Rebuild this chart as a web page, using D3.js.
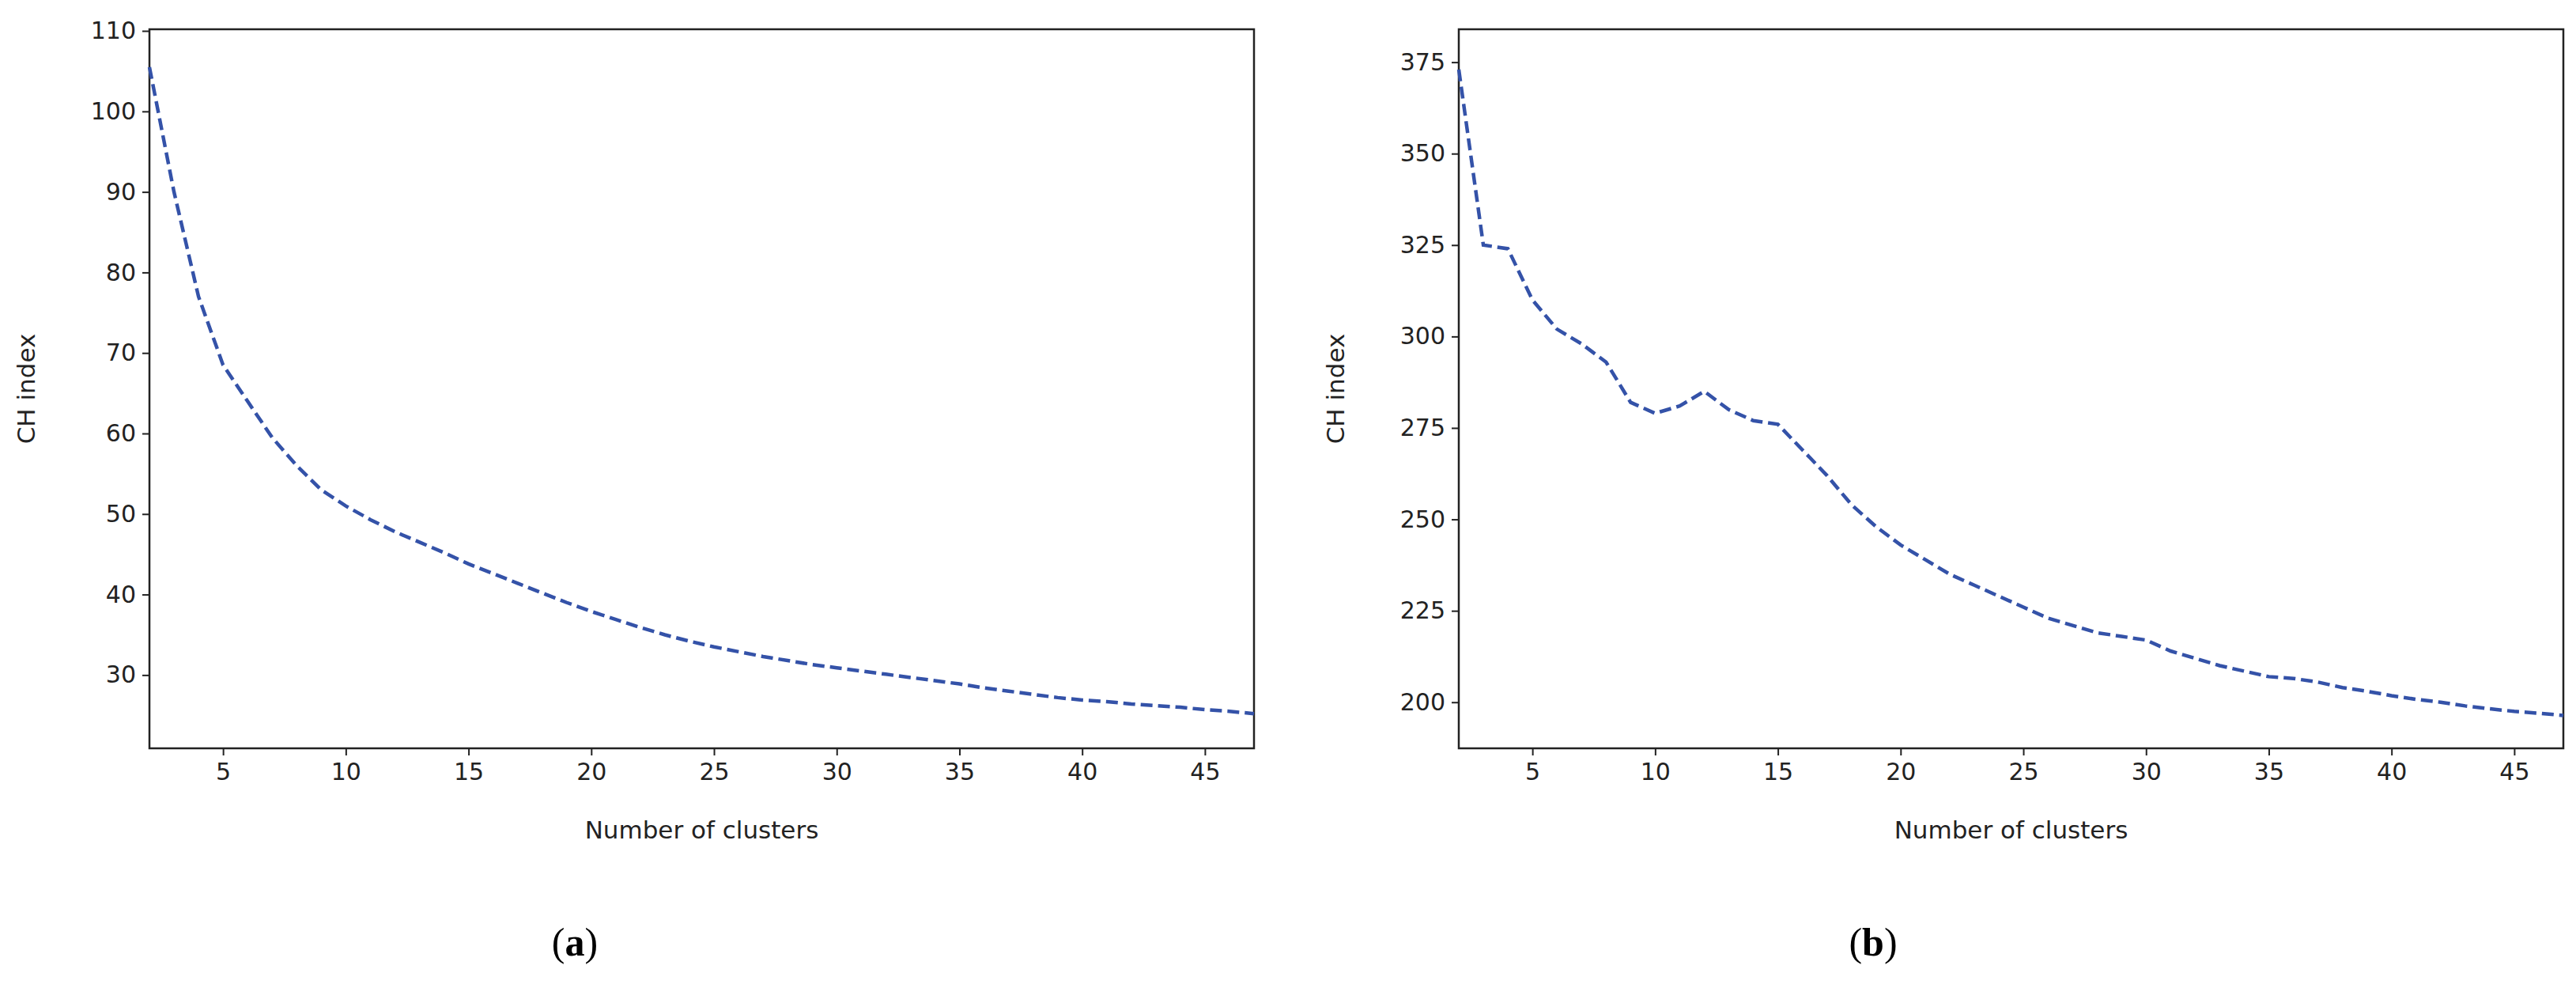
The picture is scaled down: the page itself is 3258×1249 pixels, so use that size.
<!DOCTYPE html>
<html><head><meta charset="utf-8">
<script src="https://cdn.jsdelivr.net/npm/d3@7"></script>
<style>body{margin:0;background:#fff}</style>
</head><body>
<svg id="c" width="3258" height="1249"></svg>
<script>
const clusters = d3.range(2, 48);
const chA = [105.5,90,77,68.5,64,59.5,56,53,51,49.3,47.8,46.5,45.2,43.8,42.6,41.4,40.2,39,37.9,36.9,35.9,35,34.2,33.5,32.9,32.3,31.8,31.3,30.9,30.5,30.1,29.7,29.3,28.9,28.4,28,27.6,27.2,26.9,26.7,26.4,26.2,26,25.7,25.5,25.2];
const chB = [373,325,324,310,302,298,293,282,279,281,285,280,277,276,269,262,254,248,243,239,235,232,229,226,223,221,219,218,217,214,212,210,208.5,207,206.5,205.5,204,203,201.8,200.8,200,199,198.2,197.5,197,196.4];
const xTicks = [5,10,15,20,25,30,35,40,45];
const yTicksA = [30,40,50,60,70,80,90,100,110];
const yTicksB = [200,225,250,275,300,325,350,375];

const svg = d3.select("#c");
const font = "'DejaVu Sans', sans-serif";
function panel(left, right, data, yDom, yTicks, caption, capX){
  const top = 37, bottom = 946;
  const x = d3.scaleLinear().domain([2,47]).range([left,right]);
  const y = d3.scaleLinear().domain(yDom).range([bottom, top]);
  const g = svg.append("g");
  const xa = g.append("g").attr("transform",`translate(0,${bottom})`)
    .call(d3.axisBottom(x).tickValues(xTicks).tickSize(9).tickPadding(10));
  const ya = g.append("g").attr("transform",`translate(${left},0)`)
    .call(d3.axisLeft(y).tickValues(yTicks).tickSize(9).tickPadding(8));
  [xa,ya].forEach(a=>{a.select(".domain").remove();
    a.selectAll("text").attr("font-family",font).attr("font-size",30).attr("fill","#222");
    a.selectAll("line").attr("stroke","#222").attr("stroke-width",2);});
  g.append("rect").attr("x",left).attr("y",top).attr("width",right-left).attr("height",bottom-top)
    .attr("fill","none").attr("stroke","#222").attr("stroke-width",2.5);
  g.append("path").datum(clusters.map((c,i)=>[c,data[i]]))
    .attr("d", d3.line().x(d=>x(d[0])).y(d=>y(d[1])))
    .attr("fill","none").attr("stroke","#3452a8").attr("stroke-width",4.5)
    .attr("stroke-dasharray","15,7");
  g.append("text").attr("x",(left+right)/2).attr("y",1060).attr("text-anchor","middle")
    .attr("font-family",font).attr("font-size",31).attr("fill","#222").text("Number of clusters");
  g.append("text").attr("transform",`translate(${left-145},${(top+bottom)/2}) rotate(-90)`)
    .attr("text-anchor","middle").attr("font-family",font).attr("font-size",31).attr("fill","#222").text("CH index");
  const cap = g.append("text").attr("x",capX).attr("y",1208).attr("text-anchor","middle")
    .attr("font-family","'Liberation Serif', serif").attr("font-size",50).attr("fill","#000");
  cap.append("tspan").text("(");
  cap.append("tspan").attr("font-weight","bold").text(caption);
  cap.append("tspan").text(")");
}
panel(189, 1586, chA, [20.9,110.2], yTicksA, "a", 727);
panel(1845, 3242, chB, [187.4,384], yTicksB, "b", 2369);
</script>
</body></html>
